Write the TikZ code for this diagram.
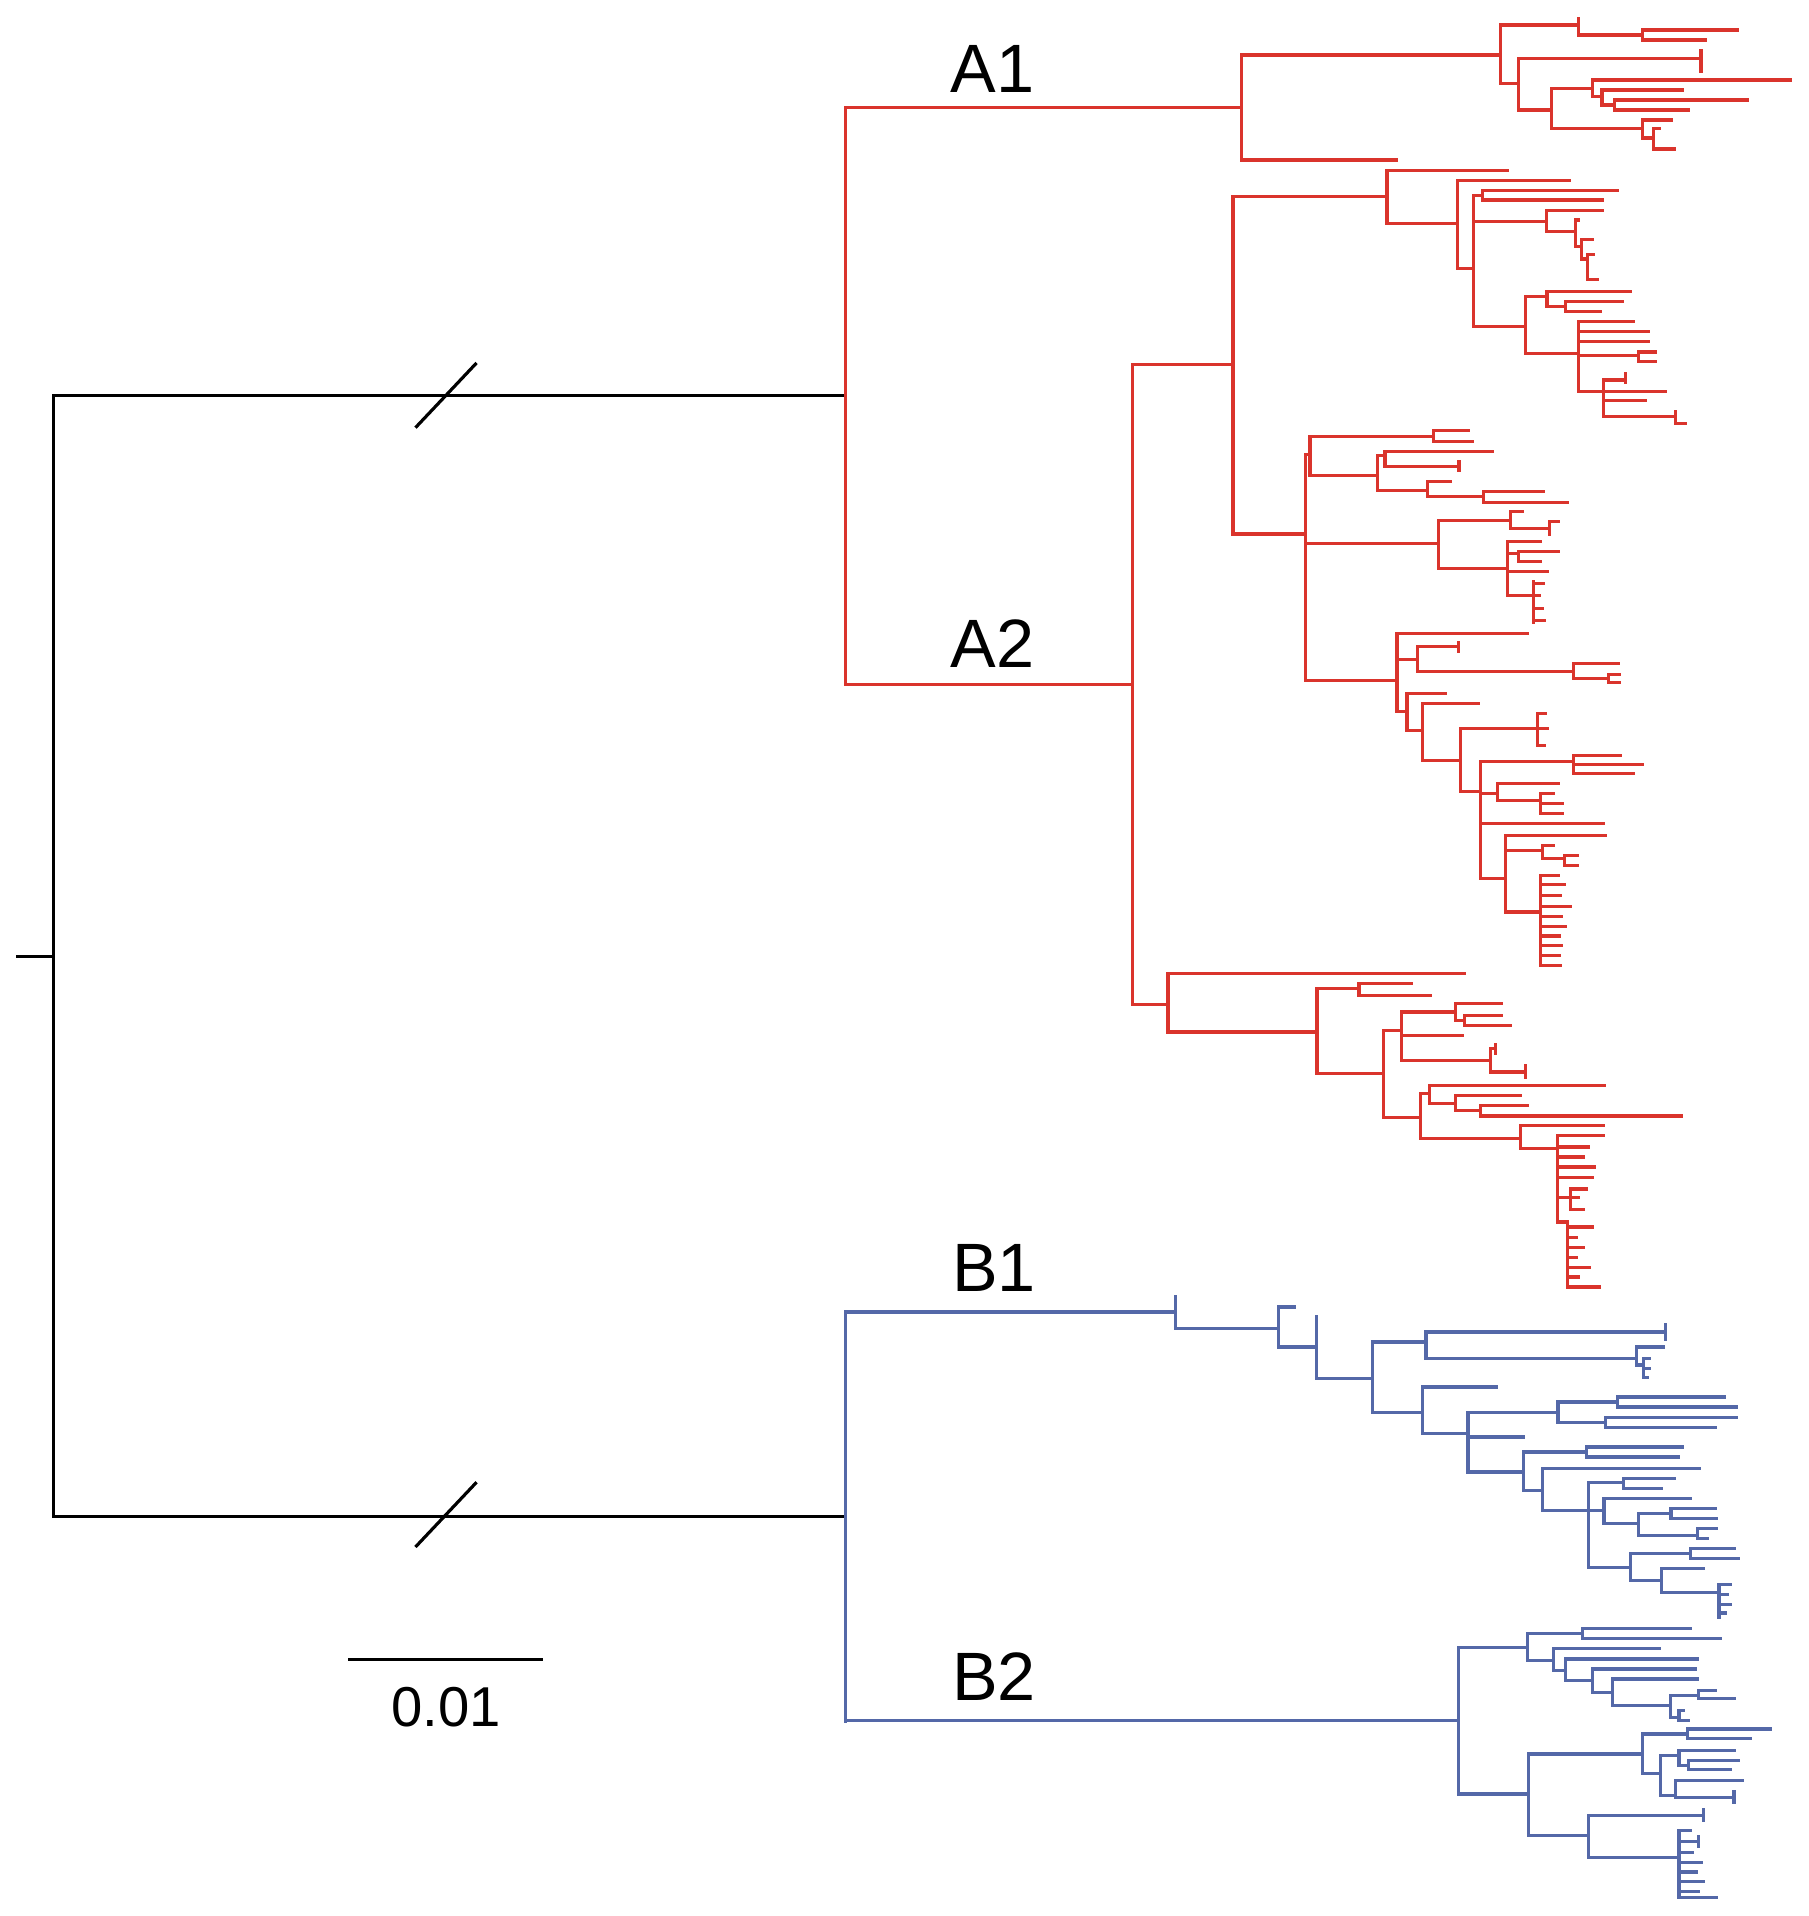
\documentclass[tikz,border=0pt]{standalone}
\usepackage{fontspec}
\setmainfont{Liberation Sans}
\definecolor{treered}{RGB}{218,52,44}
\definecolor{treeblue}{RGB}{84,104,168}
\newcommand\tlf[3]{\draw (#1,#2) -- (#3,#2);}
\newcommand\tnd[5]{\draw (#1,#3) -- (#2,#3) (#2,#4) -- (#2,#5);}
\newcommand\ttk[3]{\draw (#1,#2) -- (#1,#3);}
\tikzset{
  blk/.style={line width=2.6pt,black},
  lbl/.style={font=\fontsize{56}{60}\selectfont,inner sep=0pt,anchor=base west},
  sclbl/.style={font=\fontsize{46}{50}\selectfont,inner sep=0pt,anchor=base west}
}
\begin{document}
\begin{tikzpicture}[x=1pt,y=-1pt,line cap=rect]
\useasboundingbox[fill=white] (0,0) rectangle (1480,1568);
% ---- black root part
\draw[blk] (14,783) -- (44,783);
\draw[blk] (692,324) -- (44,324) -- (44,1241) -- (692,1241);
\draw[blk,line cap=butt] (340,350) -- (390,297);
\draw[blk,line cap=butt] (340,1266) -- (390,1213);
\draw[blk,line cap=butt] (285,1358) -- (444,1358);
\node[sclbl] (scale) at (320,1413) {0.01};
% ---- labels
\node[lbl] (A1) at (778,76) {A1};
\node[lbl] (A2) at (778,546) {A2};
\node[lbl] (B1) at (779,1057) {B1};
\node[lbl] (B2) at (779,1392) {B2};
% ---- red clade A
\begin{scope}[treered,line width=2.6pt]
\draw (692,88) -- (692,560);
% A1
\tnd{692}{1016}{88}{45}{131}
\tlf{1016}{131}{1143}
\tnd{1016}{1228}{45}{20.5}{68.2}
\tnd{1228}{1292}{20.5}{15}{28.7}
\tnd{1292}{1344}{28.7}{24.6}{32.7}
\tlf{1344}{24.6}{1422}
\tlf{1344}{32.7}{1396}
\tnd{1228}{1242.5}{68.2}{47.8}{90}
\tlf{1242.5}{47.8}{1392}
\ttk{1392}{41}{58.7}
\tnd{1242.5}{1270}{90}{72.3}{105}
\tnd{1270}{1303}{72.3}{65.5}{79}
\tlf{1303}{65.5}{1465}
\tnd{1303}{1311}{79}{73.7}{85.9}
\tlf{1311}{73.7}{1377}
\tnd{1311}{1321}{85.9}{81.9}{90}
\tlf{1321}{81.9}{1430}
\tlf{1321}{90}{1382}
\tnd{1270}{1344}{105}{98.2}{113}
\tlf{1344}{98.2}{1368}
\tnd{1344}{1353}{113}{105}{122}
\tlf{1353}{105}{1358}
\tlf{1353}{122}{1370}
% A2
\tnd{692}{927}{560}{298}{822}
\tnd{927}{1009}{298}{161}{437}
\tnd{1009}{1135}{161}{139.2}{182.9}
\tlf{1135}{139.2}{1233.4}
\tnd{1135}{1192.5}{182.9}{147.4}{219.7}
\tlf{1192.5}{147.4}{1284}
\tnd{1192.5}{1206}{219.7}{160}{267.5}
\tnd{1206}{1213}{160}{155.6}{163.7}
\tlf{1213}{155.6}{1323.5}
\tlf{1213}{163.7}{1311}
\tnd{1206}{1265.8}{181.5}{172}{189.7}
\tlf{1265.8}{172}{1311}
\tnd{1265.8}{1289}{189.7}{180}{202}
\tlf{1289}{180}{1292}
\tnd{1289}{1294}{202}{196}{212}
\tlf{1294}{196}{1303}
\tnd{1294}{1299}{212}{208}{229}
\tlf{1299}{208}{1304}
\tlf{1299}{229}{1307}
\tnd{1206}{1248.4}{267.5}{242.9}{289.3}
\tnd{1248.4}{1266}{242.9}{238.8}{251}
\tlf{1266}{238.8}{1334.4}
\tnd{1266}{1281}{251}{247}{255.2}
\tlf{1281}{247}{1327.5}
\tlf{1281}{255.2}{1310}
\tnd{1248.4}{1292}{289.3}{263.4}{320.7}
\tlf{1292}{263.4}{1337}
\tlf{1292}{271.5}{1349.4}
\tlf{1292}{279.7}{1349}
\tnd{1292}{1341}{290.6}{288}{296}
\tlf{1341}{288}{1355}
\tlf{1341}{296}{1355}
\tnd{1292}{1312.5}{320.7}{311}{341}
\tlf{1312.5}{311}{1330}
\ttk{1330}{306}{313}
\tlf{1312.5}{320.7}{1363}
\tlf{1312.5}{327.5}{1346.6}
\tlf{1312.5}{341}{1371}
\ttk{1371}{337}{346.6}
\tlf{1371}{346.6}{1379}
% middle A2 subclade
\tnd{1009}{1068.3}{437}{372}{556.6}
\tnd{1068.3}{1072}{372}{357.4}{388.8}
\tnd{1072}{1173.4}{357.4}{352}{361.5}
\tlf{1173.4}{352}{1202}
\tlf{1173.4}{361.5}{1204.7}
\tnd{1072}{1127}{388.8}{373}{401.1}
\tnd{1127}{1133.4}{373}{369.7}{382}
\tlf{1133.4}{369.7}{1221.1}
\tlf{1133.4}{382}{1194}
\ttk{1194}{378}{385}
\tnd{1127}{1168}{401.1}{394.3}{406.6}
\tlf{1168}{394.3}{1187}
\tnd{1168}{1214.3}{406.6}{402.5}{411.2}
\tlf{1214.3}{402.5}{1263.4}
\tlf{1214.3}{411.2}{1282.5}
\tnd{1068.3}{1177.5}{444.8}{425.7}{465.2}
\tnd{1177.5}{1236}{425.7}{418.8}{432.5}
\tlf{1236}{418.8}{1245.7}
\tlf{1236}{432.5}{1268}
\ttk{1268}{427}{437}
\tlf{1268}{427}{1275}
\tnd{1177.5}{1233.4}{465.2}{443.4}{487}
\tlf{1233.4}{443.4}{1260.7}
\tnd{1233.4}{1243}{453}{451.6}{459.8}
\tlf{1243}{451.6}{1275.7}
\tlf{1243}{459.8}{1260.7}
\tlf{1233.4}{468}{1266}
\tnd{1233.4}{1255.2}{487}{476.2}{509}
\tlf{1255.2}{477.5}{1263.4}
\tlf{1255.2}{487}{1260}
\tlf{1255.2}{498}{1262}
\tlf{1255.2}{507.5}{1264}
\tnd{1068.3}{1143.3}{556.6}{518.4}{582.5}
\tlf{1143.3}{518.4}{1249.8}
\tnd{1143.3}{1159.7}{540}{529.3}{549.8}
\tlf{1159.7}{529.3}{1193.8}
\ttk{1193.8}{526}{533}
\tnd{1159.7}{1288}{549.8}{543}{555.3}
\tlf{1288}{543}{1324.8}
\tnd{1288}{1316}{555.3}{552}{558.5}
\tlf{1316}{552}{1325}
\tlf{1316}{558.5}{1325}
\tnd{1143.3}{1151.5}{582.5}{567.5}{597.6}
\tlf{1151.5}{567.5}{1183}
\tnd{1151.5}{1163.8}{597.6}{575.7}{622.1}
\tlf{1163.8}{575.7}{1210}
\tnd{1163.8}{1195.2}{622.1}{596.2}{648}
\tnd{1195.2}{1258}{596.2}{584}{610}
\tlf{1258}{584}{1264.8}
\tlf{1258}{596.2}{1266}
\tlf{1258}{610}{1264}
\tnd{1195.2}{1211.6}{648}{623.5}{719}
\tnd{1211.6}{1288}{623.5}{618}{633}
\tlf{1288}{618}{1326}
\tlf{1288}{625.5}{1344}
\tlf{1288}{633}{1337}
\tnd{1211.6}{1225.2}{649.4}{641.2}{655}
\tlf{1225.2}{641.2}{1275.7}
\tnd{1225.2}{1260.7}{655}{649.4}{665.8}
\tlf{1260.7}{649.4}{1271}
\tlf{1260.7}{657.5}{1278.4}
\tlf{1260.7}{665.8}{1278.4}
\tlf{1211.6}{674}{1312.5}
\tnd{1211.6}{1232}{719}{683.5}{746.3}
\tlf{1232}{683.5}{1314}
\tnd{1232}{1262}{695.8}{691.7}{702.6}
\tlf{1262}{691.7}{1271.6}
\tnd{1262}{1280}{702.6}{700}{708}
\tlf{1280}{700}{1290.7}
\tlf{1280}{708}{1290.7}
\tnd{1232}{1260.7}{746.3}{716.3}{790}
\tlf{1260.7}{716.3}{1275}
\tlf{1260.7}{724}{1280}
\tlf{1260.7}{733}{1277}
\tlf{1260.7}{742}{1285}
\tlf{1260.7}{750}{1278}
\tlf{1260.7}{758}{1281}
\tlf{1260.7}{766}{1276}
\tlf{1260.7}{774}{1278}
\tlf{1260.7}{782}{1276}
\tlf{1260.7}{790}{1277}
% bottom A2 subclade
\tnd{927}{955.8}{822}{796.8}{844.6}
\tlf{955.8}{796.8}{1198.4}
\tnd{955.8}{1077.8}{844.6}{809}{878.7}
\tnd{1077.8}{1112.2}{809}{805}{814.5}
\tlf{1112.2}{805}{1155.3}
\tlf{1112.2}{814.5}{1171}
\tnd{1077.8}{1132.3}{878.7}{843.2}{914.2}
\tnd{1132.3}{1146.7}{843.2}{828.2}{867.8}
\tnd{1146.7}{1191.2}{828.2}{821.4}{835}
\tlf{1191.2}{821.4}{1228.5}
\tnd{1191.2}{1198.4}{835}{830.9}{839.1}
\tlf{1198.4}{830.9}{1228.5}
\tlf{1198.4}{839.1}{1235.7}
\tlf{1146.7}{847.3}{1197}
\tnd{1146.7}{1219.9}{867.8}{858.2}{877.3}
\tlf{1219.9}{858.2}{1224}
\ttk{1224}{855}{862}
\tlf{1219.9}{877.3}{1248.6}
\ttk{1248.6}{872}{882}
\tnd{1132.3}{1162.5}{914.2}{895}{931.9}
\tnd{1162.5}{1169.6}{895}{888.2}{903.2}
\tlf{1169.6}{888.2}{1313.2}
\tnd{1169.6}{1191.2}{903.2}{896.4}{909}
\tlf{1191.2}{896.4}{1244.3}
\tnd{1191.2}{1211.3}{909}{904.6}{913.3}
\tlf{1211.3}{904.6}{1250}
\tlf{1211.3}{913.3}{1376.4}
\tnd{1162.5}{1244.3}{931.9}{921}{940}
\tlf{1244.3}{921}{1311.8}
\tnd{1244.3}{1274.4}{940}{929.2}{1000}
\tlf{1274.4}{929.2}{1311.8}
\tlf{1274.4}{938.7}{1300.3}
\tlf{1274.4}{946.9}{1296}
\tlf{1274.4}{955}{1305}
\tlf{1274.4}{963.3}{1303}
\tnd{1274.4}{1285}{980}{973}{990}
\tlf{1285}{973}{1298}
\tlf{1285}{980}{1292}
\tlf{1285}{990}{1296}
\tnd{1274.4}{1283}{1000}{1000}{1053.3}
\tlf{1283}{1004.2}{1303}
\tlf{1283}{1012.4}{1290}
\tlf{1283}{1020.6}{1296}
\tlf{1283}{1028.8}{1290}
\tlf{1283}{1037}{1301}
\tlf{1283}{1045}{1292}
\tlf{1283}{1053.3}{1309}
\end{scope}
% ---- blue clade B
\begin{scope}[treeblue,line width=2.6pt]
\draw (692,1074) -- (692,1409);
% B1
\tnd{692}{961.8}{1073.7}{1061.4}{1087.4}
\tnd{961.8}{1046.4}{1087.4}{1069.6}{1102.4}
\tlf{1046.4}{1069.6}{1058.9}
\tnd{1046.4}{1077.7}{1102.4}{1077.8}{1128.3}
\tnd{1077.7}{1123.1}{1128.3}{1098.3}{1155.6}
\tnd{1123.1}{1167}{1098.3}{1090}{1111.9}
\tlf{1167}{1090}{1362.8}
\ttk{1362.8}{1084}{1096}
\tnd{1167}{1339.3}{1111.9}{1102.4}{1117}
\tlf{1339.3}{1102.4}{1361.2}
\tnd{1339.3}{1345}{1117}{1112}{1127}
\tlf{1345}{1112}{1350}
\tlf{1345}{1120}{1350}
\tlf{1345}{1127}{1348}
\tnd{1123.1}{1163.8}{1155.6}{1135.1}{1173.3}
\tlf{1163.8}{1135.1}{1224.9}
\tnd{1163.8}{1201.4}{1173.3}{1155.6}{1204.7}
\tnd{1201.4}{1275}{1155.6}{1147.4}{1163.8}
\tnd{1275}{1323.6}{1147.4}{1143.3}{1151.5}
\tlf{1323.6}{1143.3}{1411.4}
\tlf{1323.6}{1151.5}{1420.8}
\tnd{1275}{1314.2}{1163.8}{1159.7}{1167.9}
\tlf{1314.2}{1159.7}{1420.8}
\tlf{1314.2}{1167.9}{1403.5}
\tlf{1201.4}{1176}{1246.9}
\tnd{1201.4}{1246.9}{1204.7}{1188.3}{1219.7}
\tnd{1246.9}{1298.6}{1188.3}{1184.2}{1192.4}
\tlf{1298.6}{1184.2}{1376.9}
\tlf{1298.6}{1192.4}{1373.8}
\tnd{1246.9}{1262.5}{1219.7}{1202}{1236.1}
\tlf{1262.5}{1202}{1391}
\tnd{1262.5}{1300.1}{1236.1}{1212.9}{1282.5}
\tnd{1300.1}{1328.3}{1212.9}{1210.2}{1218.4}
\tlf{1328.3}{1210.2}{1370.6}
\tlf{1328.3}{1218.4}{1359.7}
\tnd{1300.1}{1312.6}{1236.1}{1226.5}{1247}
\tlf{1312.6}{1226.5}{1383.2}
\tnd{1312.6}{1340.9}{1247}{1238.8}{1256.6}
\tnd{1340.9}{1367.5}{1238.8}{1234.7}{1242.9}
\tlf{1367.5}{1234.7}{1403.5}
\tlf{1367.5}{1242.9}{1405}
\tnd{1340.9}{1389.4}{1256.6}{1251.1}{1259.3}
\tlf{1389.4}{1251.1}{1405}
\tlf{1389.4}{1259.3}{1397.3}
\tnd{1300.1}{1334.6}{1282.5}{1271.6}{1293.4}
\tnd{1334.6}{1383.2}{1271.6}{1267.5}{1275.7}
\tlf{1383.2}{1267.5}{1419.2}
\tlf{1383.2}{1275.7}{1422.3}
\tnd{1334.6}{1359.6}{1293.4}{1283.9}{1303}
\tlf{1359.6}{1283.9}{1394.1}
\tnd{1359.6}{1406.7}{1303}{1297}{1323.4}
\tlf{1406.7}{1297}{1416}
\tlf{1406.7}{1305}{1414}
\tlf{1406.7}{1313}{1416}
\tlf{1406.7}{1320}{1412}
% B2
\tnd{692}{1193.8}{1408}{1348}{1468.1}
\tnd{1193.8}{1249.8}{1348}{1337.1}{1359}
\tnd{1249.8}{1294.8}{1337.1}{1333}{1341.2}
\tlf{1294.8}{1333}{1383.5}
\tlf{1294.8}{1341.2}{1408}
\tnd{1249.8}{1271.6}{1359}{1349.4}{1367.1}
\tlf{1271.6}{1349.4}{1357.6}
\tnd{1271.6}{1281.1}{1367.1}{1357.6}{1375.3}
\tlf{1281.1}{1357.6}{1389}
\tnd{1281.1}{1303}{1375.3}{1365.8}{1384.9}
\tlf{1303}{1365.8}{1387.6}
\tnd{1303}{1319.3}{1384.9}{1374}{1395.8}
\tlf{1319.3}{1374}{1389}
\tnd{1319.3}{1367.1}{1395.8}{1387.6}{1405.3}
\tnd{1367.1}{1390.3}{1387.6}{1383.5}{1390.3}
\tlf{1390.3}{1383.5}{1404}
\tlf{1390.3}{1390.3}{1419}
\tnd{1367.1}{1374}{1405.3}{1400}{1408}
\tlf{1374}{1400}{1378}
\tlf{1374}{1408}{1382}
\tnd{1193.8}{1251.1}{1468.1}{1435.4}{1502.2}
\tnd{1251.1}{1344}{1435.4}{1419}{1451.7}
\tnd{1344}{1380.7}{1419}{1414.9}{1423}
\tlf{1380.7}{1414.9}{1449}
\tlf{1380.7}{1423}{1432.6}
\tnd{1344}{1358.9}{1451.7}{1436.7}{1469.5}
\tnd{1358.9}{1374}{1436.7}{1432.6}{1444.9}
\tlf{1374}{1432.6}{1419}
\tnd{1374}{1382}{1444.9}{1440.8}{1448.4}
\tlf{1382}{1440.8}{1423}
\tlf{1382}{1448.4}{1416.2}
\tnd{1358.9}{1371.2}{1469.5}{1457.2}{1470.8}
\tlf{1371.2}{1457.2}{1425.8}
\tlf{1371.2}{1470.8}{1419}
\ttk{1419}{1466}{1475}
\tnd{1251.1}{1300.2}{1502.2}{1485.8}{1520}
\tlf{1300.2}{1485.8}{1394.4}
\ttk{1394.4}{1481}{1490}
\tnd{1300.2}{1374}{1520}{1498}{1552.7}
\tlf{1374}{1498}{1383}
\tlf{1374}{1507}{1390}
\ttk{1390}{1503}{1511}
\tlf{1374}{1516}{1385}
\tlf{1374}{1524}{1392}
\tlf{1374}{1532}{1388}
\tlf{1374}{1540}{1394}
\tlf{1374}{1548}{1390}
\tlf{1374}{1552.7}{1405}
\end{scope}
\end{tikzpicture}
\end{document}
